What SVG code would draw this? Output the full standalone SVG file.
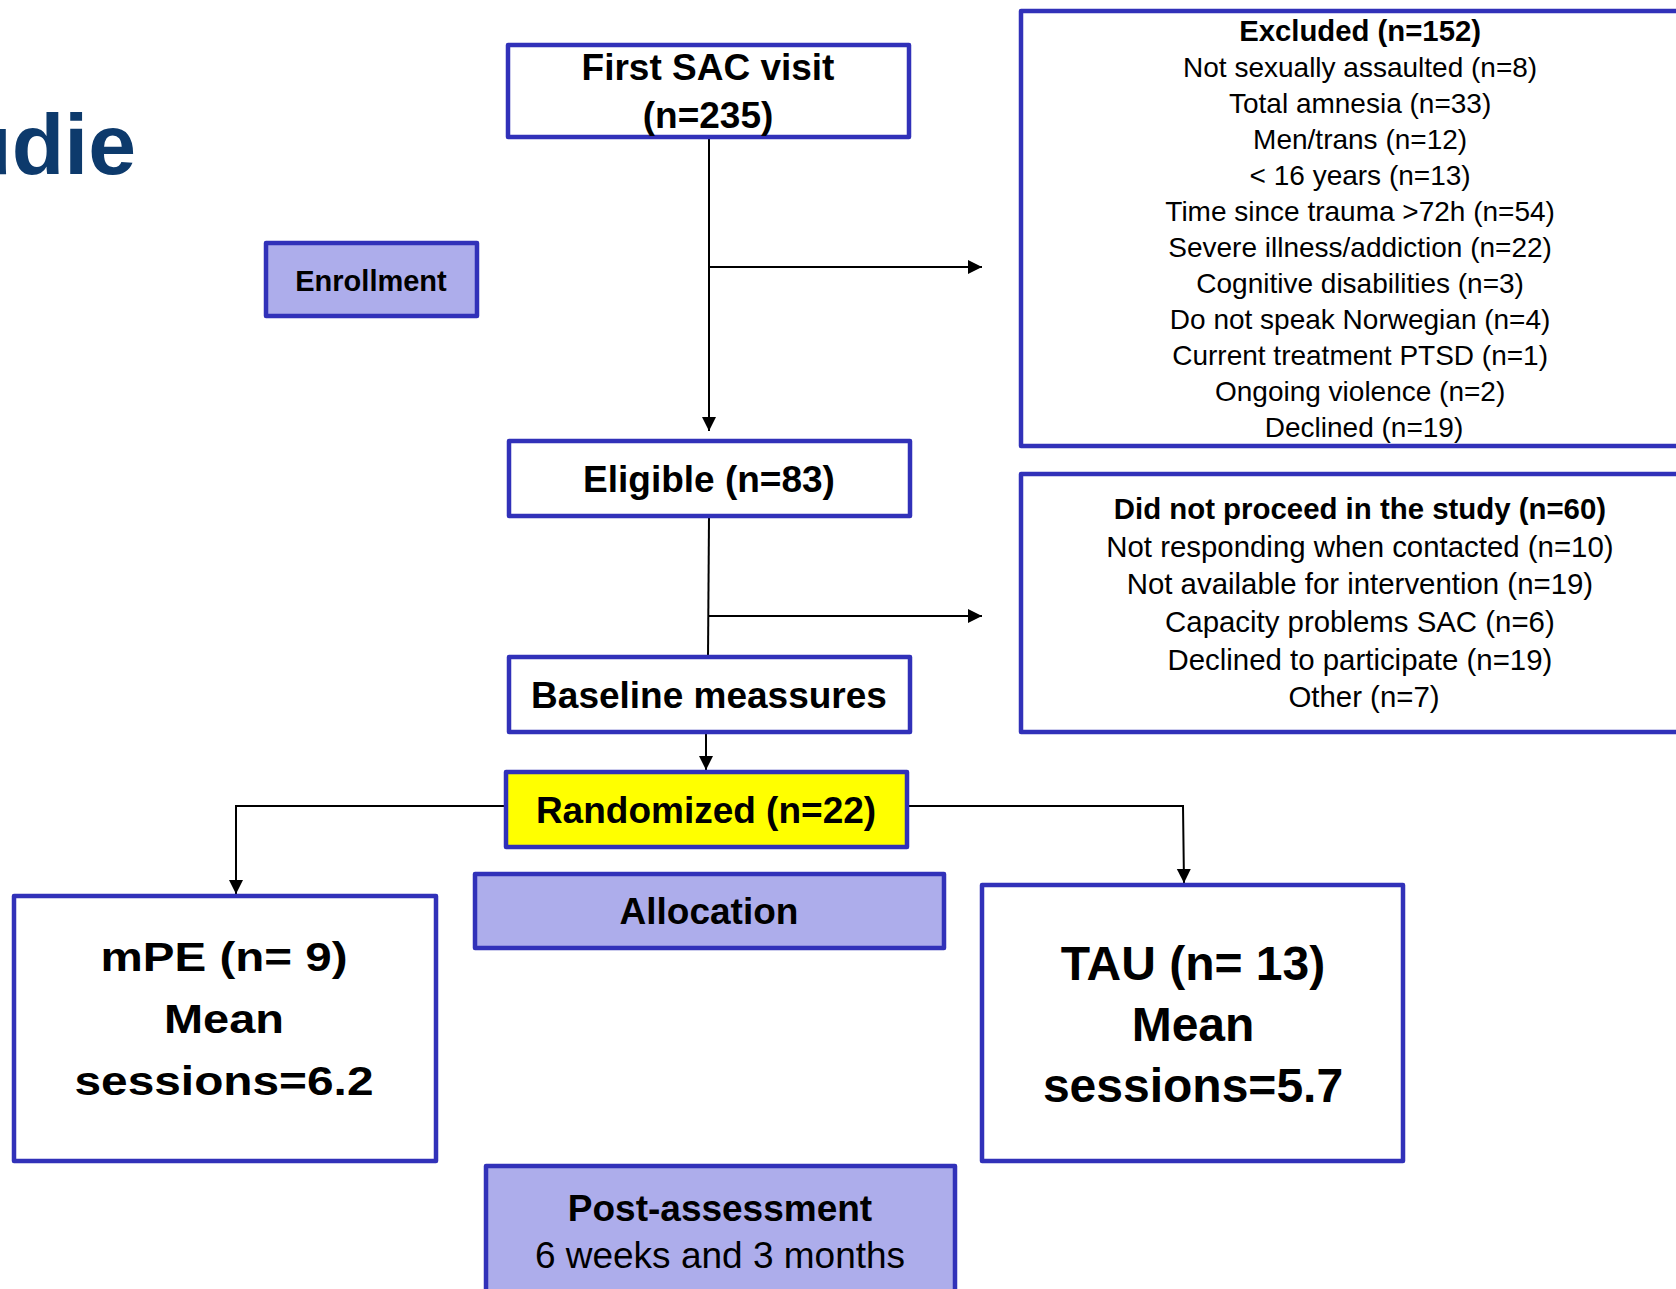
<svg xmlns="http://www.w3.org/2000/svg" width="1676" height="1289" viewBox="0 0 1676 1289">
<defs>
<marker id="arr" markerWidth="16" markerHeight="16" refX="14" refY="7" orient="auto" markerUnits="userSpaceOnUse">
<path d="M0,0 L14,7 L0,14 Z" fill="#000"/>
</marker>
<style>
.box{fill:#fff;stroke:#3131b9;stroke-width:4.5;stroke-linejoin:round}
.lab{fill:#adadeb;stroke:#3131b9;stroke-width:4.5;stroke-linejoin:round}
.yel{fill:#ffff00;stroke:#3131b9;stroke-width:4.5;stroke-linejoin:round}
.t{font-family:"Liberation Sans",Arial,sans-serif;fill:#000;text-anchor:middle}
.b{font-weight:bold}
.c{fill:none;stroke:#000;stroke-width:2}
</style>
</defs>
<rect width="1676" height="1289" fill="#fff"/>
<text x="136" y="174" font-family="Liberation Sans, Arial, sans-serif" font-weight="bold" font-size="86" fill="#0d3a6c" text-anchor="end">udie</text>

<g id="connectors">
<line class="c" x1="709" y1="137" x2="709" y2="431" marker-end="url(#arr)"/>
<line class="c" x1="709" y1="267" x2="982" y2="267" marker-end="url(#arr)"/>
<line class="c" x1="709" y1="516" x2="708" y2="657"/>
<line class="c" x1="708" y1="616" x2="982" y2="616" marker-end="url(#arr)"/>
<line class="c" x1="706" y1="732" x2="706" y2="770" marker-end="url(#arr)"/>
<polyline class="c" points="506,806 236,806 236,894" marker-end="url(#arr)"/>
<polyline class="c" points="907,806 1183,806 1184,883" marker-end="url(#arr)"/>
</g>

<g id="enrollment">
<rect class="lab" x="266" y="243" width="211" height="73"/>
<text class="t b" x="371" y="291" font-size="29">Enrollment</text>
</g>

<g id="first-sac">
<rect class="box" x="508" y="45" width="401" height="92"/>
<text class="t b" x="708" y="80" font-size="37">First SAC visit</text>
<text class="t b" x="708" y="128" font-size="37">(n=235)</text>
</g>

<g id="excluded">
<rect class="box" x="1021" y="11" width="690" height="435"/>
<text class="t" x="1364" font-size="28">
<tspan class="b" x="1364" y="41" font-size="29.3">Excluded (n=152)</tspan>
<tspan x="1364" y="77">Not sexually assaulted (n=8)</tspan>
<tspan x="1364" y="113">Total amnesia (n=33)</tspan>
<tspan x="1364" y="149">Men/trans (n=12)</tspan>
<tspan x="1364" y="185">&lt; 16 years (n=13)</tspan>
<tspan x="1364" y="221">Time since trauma &gt;72h (n=54)</tspan>
<tspan x="1364" y="257">Severe illness/addiction (n=22)</tspan>
<tspan x="1364" y="293">Cognitive disabilities (n=3)</tspan>
<tspan x="1364" y="329">Do not speak Norwegian (n=4)</tspan>
<tspan x="1364" y="365">Current treatment PTSD (n=1)</tspan>
<tspan x="1364" y="401">Ongoing violence (n=2)</tspan>
<tspan x="1364" y="437">Declined (n=19)</tspan>
</text>
</g>

<g id="eligible">
<rect class="box" x="509" y="441" width="401" height="75"/>
<text class="t b" x="709" y="492" font-size="37">Eligible (n=83)</text>
</g>

<g id="not-proceed">
<rect class="box" x="1021" y="474" width="690" height="258"/>
<text class="t" x="1364" font-size="29.4">
<tspan class="b" x="1364" y="519">Did not proceed in the study (n=60)</tspan>
<tspan x="1364" y="557">Not responding when contacted (n=10)</tspan>
<tspan x="1364" y="594">Not available for intervention (n=19)</tspan>
<tspan x="1364" y="632">Capacity problems SAC (n=6)</tspan>
<tspan x="1364" y="670">Declined to participate (n=19)</tspan>
<tspan x="1364" y="707">Other (n=7)</tspan>
</text>
</g>

<g id="baseline">
<rect class="box" x="509" y="657" width="401" height="75"/>
<text class="t b" x="709" y="708" font-size="37">Baseline meassures</text>
</g>

<g id="randomized">
<rect class="yel" x="506" y="772" width="401" height="75"/>
<text class="t b" x="706" y="823" font-size="37">Randomized (n=22)</text>
</g>

<g id="allocation">
<rect class="lab" x="475" y="874" width="469" height="74"/>
<text class="t b" x="709" y="924" font-size="37">Allocation</text>
</g>

<g id="mpe">
<rect class="box" x="14" y="896" width="422" height="265"/>
<text class="t b" x="224" y="971" font-size="40" textLength="247" lengthAdjust="spacingAndGlyphs">mPE (n= 9)</text>
<text class="t b" x="224" y="1033" font-size="40" textLength="120" lengthAdjust="spacingAndGlyphs">Mean</text>
<text class="t b" x="224" y="1095" font-size="40" textLength="299" lengthAdjust="spacingAndGlyphs">sessions=6.2</text>
</g>

<g id="tau">
<rect class="box" x="982" y="885" width="421" height="276"/>
<text class="t b" x="1193" y="980" font-size="48">TAU (n= 13)</text>
<text class="t b" x="1193" y="1041" font-size="48">Mean</text>
<text class="t b" x="1193" y="1102" font-size="48">sessions=5.7</text>
</g>

<g id="post">
<rect class="lab" x="486" y="1166" width="469" height="140"/>
<text class="t b" x="720" y="1221" font-size="37">Post-assessment</text>
<text class="t" x="720" y="1268" font-size="37">6 weeks and 3 months</text>
</g>
</svg>
